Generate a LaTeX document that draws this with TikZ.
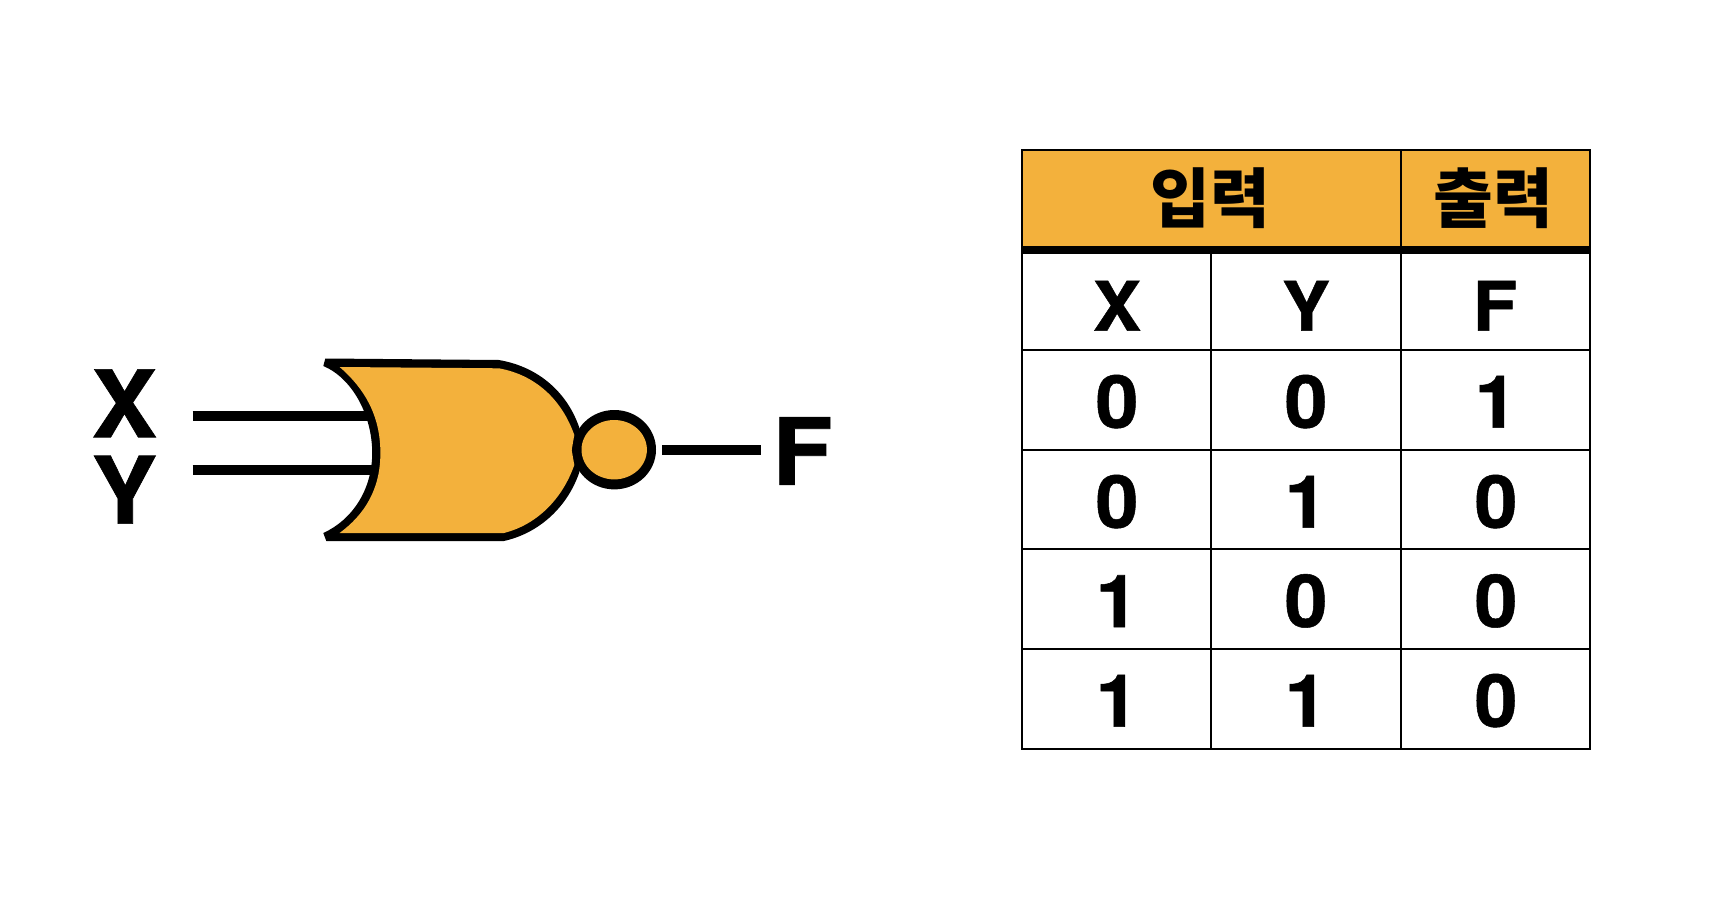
\documentclass[tikz,border=0pt]{standalone}
\usepackage{fontspec}
\setmainfont{TeX Gyre Heros}[BoldFeatures={FakeBold=0.7,FakeStretch=1.06}]
\newfontfamily\cjk{Noto Sans CJK KR}[BoldFont={Noto Sans CJK KR Black}]
\definecolor{gateorange}{HTML}{F3B13C}
\tikzset{
  wire/.style={line width=10pt},
  grid line/.style={line width=1.8pt},
  heavy line/.style={line width=7.5pt},
  tlabel/.style={anchor=base,inner sep=0pt,font=\fontsize{68.5}{84}\selectfont\bfseries},
  dlabel/.style={anchor=base,inner sep=0pt,font=\fontsize{73}{84}\selectfont\bfseries},
  glabel/.style={inner sep=0pt,font=\fontsize{93}{110}\selectfont\bfseries},
  hlabel/.style={inner sep=0pt,font=\cjk\fontsize{65}{72}\selectfont\bfseries},
}
\begin{document}
\begin{tikzpicture}[x=1pt,y=-1pt]
\useasboundingbox (0,0) rectangle (1716,904);
% input and output wires
\node[glabel] (gX) at (124.3,403.3) {X};
\node[glabel] (gY) at (124.3,489.7) {Y};
\node[glabel] (gF) at (802.5,451) {F};
\coordinate (x0) at (192.7,415.7); \coordinate (x1) at (372,415.7);
\coordinate (y0) at (192.7,470);   \coordinate (y1) at (376,470);
\coordinate (f0) at (662,450);   \coordinate (f1) at (761,450);
\draw[wire] (x0) -- (x1);
\draw[wire] (y0) -- (y1);
\draw[wire] (f0) -- (f1);
% gate body: outer silhouette, then inner fill
\fill[black] (325.3,358.5) -- (498.8,360)
  .. controls (540,367) and (568,394) .. (579.4,428)
  -- (579.4,472)
  .. controls (568,506) and (540,533) .. (503.9,541)
  -- (326.3,541) -- (323.3,533)
  .. controls (352,520) and (372.2,490) .. (372.2,453)
  .. controls (372.2,415) and (352,378) .. (323.3,366) -- cycle;
\fill[gateorange] (339.6,367) -- (498.8,368.3)
  .. controls (536,375) and (562,400) .. (574.3,435)
  -- (571.7,450) -- (574.3,465)
  .. controls (562,500) and (536,525) .. (503.9,533)
  -- (339.6,533)
  .. controls (364,515) and (380.4,490) .. (380.4,453)
  .. controls (380.4,415) and (364,388) .. (339.6,367) -- cycle;
% inversion bubble
\fill[black] (614.4,449.7) ellipse [x radius=41.6,y radius=39.7];
\fill[gateorange] (614.2,449.7) ellipse [x radius=32.7,y radius=29.7];
% table
\fill[gateorange] (1022,150) rectangle (1590,250);
\foreach \yy in {349.7,450,548.7,648.7} \draw[grid line] (1022,\yy) -- (1590,\yy);
\draw[grid line] (1211,250) -- (1211,749);
\draw[grid line] (1400.7,150) -- (1400.7,749);
\draw[grid line] (1022,150) rectangle (1590,749);
\draw[heavy line] (1022,250) -- (1590,250);
\node[hlabel] (hin) at (1210.2,197.7) {입력};
\node[hlabel] (hout) at (1493.7,197.7) {출력};
\node[tlabel] (tX) at (1117,330.7) {X};
\node[tlabel] (tY) at (1306,330.7) {Y};
\node[tlabel] (tF) at (1495,330.7) {F};
\node[dlabel] (a1) at (1117,427.7) {0};
\node[dlabel] (b1) at (1306,427.7) {0};
\node[dlabel] (c1) at (1496,427.7) {1};
\node[dlabel] (a2) at (1117,527.7) {0};
\node[dlabel] (b2) at (1306,527.7) {1};
\node[dlabel] (c2) at (1496,527.7) {0};
\node[dlabel] (a3) at (1117,627) {1};
\node[dlabel] (b3) at (1306,627) {0};
\node[dlabel] (c3) at (1496,627) {0};
\node[dlabel] (a4) at (1117,726.7) {1};
\node[dlabel] (b4) at (1306,726.7) {1};
\node[dlabel] (c4) at (1496,726.7) {0};
\end{tikzpicture}
\end{document}
